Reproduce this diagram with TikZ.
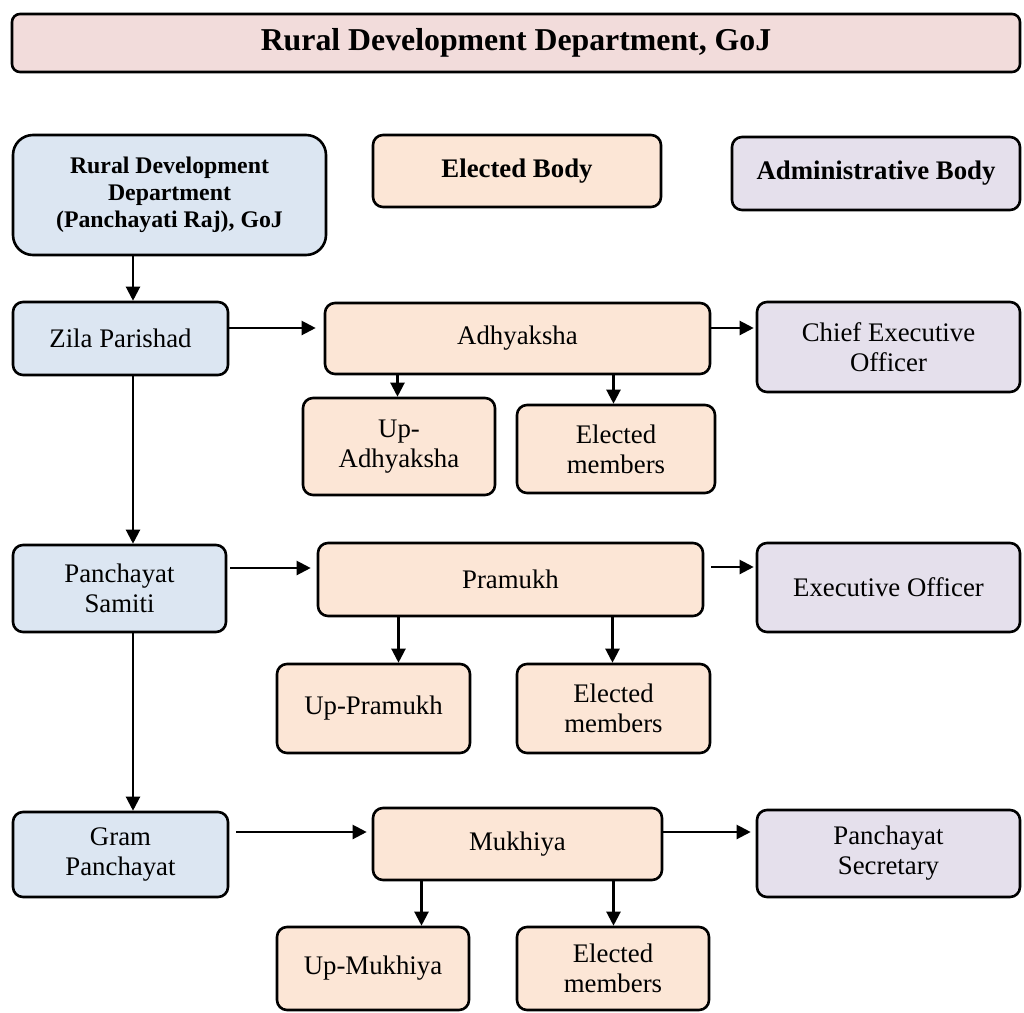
\documentclass[tikz,border=0pt]{standalone}
\usepackage{fontspec}
\setmainfont{Liberation Serif}
\usetikzlibrary{arrows.meta,positioning}
\definecolor{titlepink}{RGB}{242,220,219}
\definecolor{panblue}{RGB}{220,230,242}
\definecolor{electpeach}{RGB}{252,230,214}
\definecolor{adminlilac}{RGB}{229,224,236}

\begin{document}
\begin{tikzpicture}[
x=0.5pt, y=-0.5pt,
box/.style={
	draw, line width=1.3pt, rounded corners=5pt,
	align=center, inner sep=2pt,
	font=\fontsize{13.4}{15}\selectfont
},
govt/.style={box, fill=panblue},
elect/.style={box, fill=electpeach},
admin/.style={box, fill=adminlilac},
arr/.style={-{Triangle[length=7pt,width=7pt]}, line width=1.1pt}
]
\useasboundingbox (0,0) rectangle (1024,1013);
\node[box, fill=titlepink, rounded corners=4pt, minimum width=504pt, minimum height=29pt,
	font=\fontsize{15.9}{18}\selectfont\bfseries] (title) at (516,43) {Rural Development Department, GoJ};
% legend row
\node[govt, rounded corners=10pt, minimum width=156.5pt, minimum height=60pt,
	font=\fontsize{11.9}{13.5}\selectfont\bfseries] (rdd) at (169.5,195)
	{Rural Development\\Department\\(Panchayati Raj), GoJ};
\node[elect, minimum width=144pt, minimum height=36pt, font=\fontsize{13.4}{15}\selectfont\bfseries] (eb) at (517,171) {Elected Body};
\node[admin, minimum width=144pt, minimum height=36.5pt, font=\fontsize{13.4}{15}\selectfont\bfseries] (ab) at (876,173.5) {Administrative Body};
% district level
\node[govt, minimum width=107.5pt, minimum height=36.5pt] (zila) at (120.5,338.5) {Zila Parishad};
\node[elect, minimum width=192.5pt, minimum height=35.5pt] (adhy) at (517.5,338.5) {Adhyaksha};
\node[admin, minimum width=131.5pt, minimum height=45pt] (ceo) at (888.5,347) {Chief Executive\\Officer};
\node[elect, minimum width=96pt, minimum height=48.5pt] (upadhy) at (399,446.5) {Up-\\Adhyaksha};
\node[elect, minimum width=99pt, minimum height=44pt] (elm1) at (616,449) {Elected\\members};
% block level
\node[govt, minimum width=106.5pt, minimum height=43.5pt] (samiti) at (119.5,588.5) {Panchayat\\Samiti};
\node[elect, minimum width=192.5pt, minimum height=36.5pt] (pram) at (510.5,579.5) {Pramukh};
\node[admin, minimum width=131.5pt, minimum height=44.5pt] (eo) at (888.5,587.5) {Executive Officer};
\node[elect, minimum width=96.5pt, minimum height=44.5pt] (uppram) at (373.5,708.5) {Up-Pramukh};
\node[elect, minimum width=96.5pt, minimum height=44.5pt] (elm2) at (613.5,708.5) {Elected\\members};
% village level
\node[govt, minimum width=107.5pt, minimum height=42.5pt] (gram) at (120.5,854.5) {Gram\\Panchayat};
\node[elect, minimum width=144.5pt, minimum height=36pt] (mukh) at (517.5,844) {Mukhiya};
\node[admin, minimum width=131.5pt, minimum height=43.5pt] (pansec) at (888.5,853.5) {Panchayat\\Secretary};
\node[elect, minimum width=96pt, minimum height=41.5pt] (upmukh) at (373,968.5) {Up-Mukhiya};
\node[elect, minimum width=96pt, minimum height=41.5pt] (elm3) at (613,968.5) {Elected\\members};

\coordinate (spine) at (133,0);
\draw[arr] (rdd.south -| spine) -- (zila.north -| spine);
\draw[arr] (zila.south -| spine) -- (samiti.north -| spine);
\draw[arr] (samiti.south -| spine) -- (gram.north -| spine);
\foreach \a/\b/\dy/\s/\e in {zila/adhy/5.25/0/4, adhy/ceo/5.25/0/1, samiti/pram/10.25/1.5/3,
	pram/eo/6.25/3.5/1, gram/mukh/11.25/3.5/2.5, mukh/pansec/6/0/2.5}
{
	\draw[arr, shorten <=\s pt, shorten >=\e pt] ([yshift=\dy pt]\a.east) -- ([yshift=\dy pt]\a.east -| \b.west);
}
\foreach \p/\c/\dx in {adhy/upadhy/-60, adhy/elm1/48, pram/uppram/-56,
	pram/elm2/51, mukh/upmukh/-48, mukh/elm3/48}
{
	\draw[arr] ([xshift=\dx pt]\p.south) -- ([xshift=\dx pt]\p.south |- \c.north);
}
\end{tikzpicture}
\end{document}
